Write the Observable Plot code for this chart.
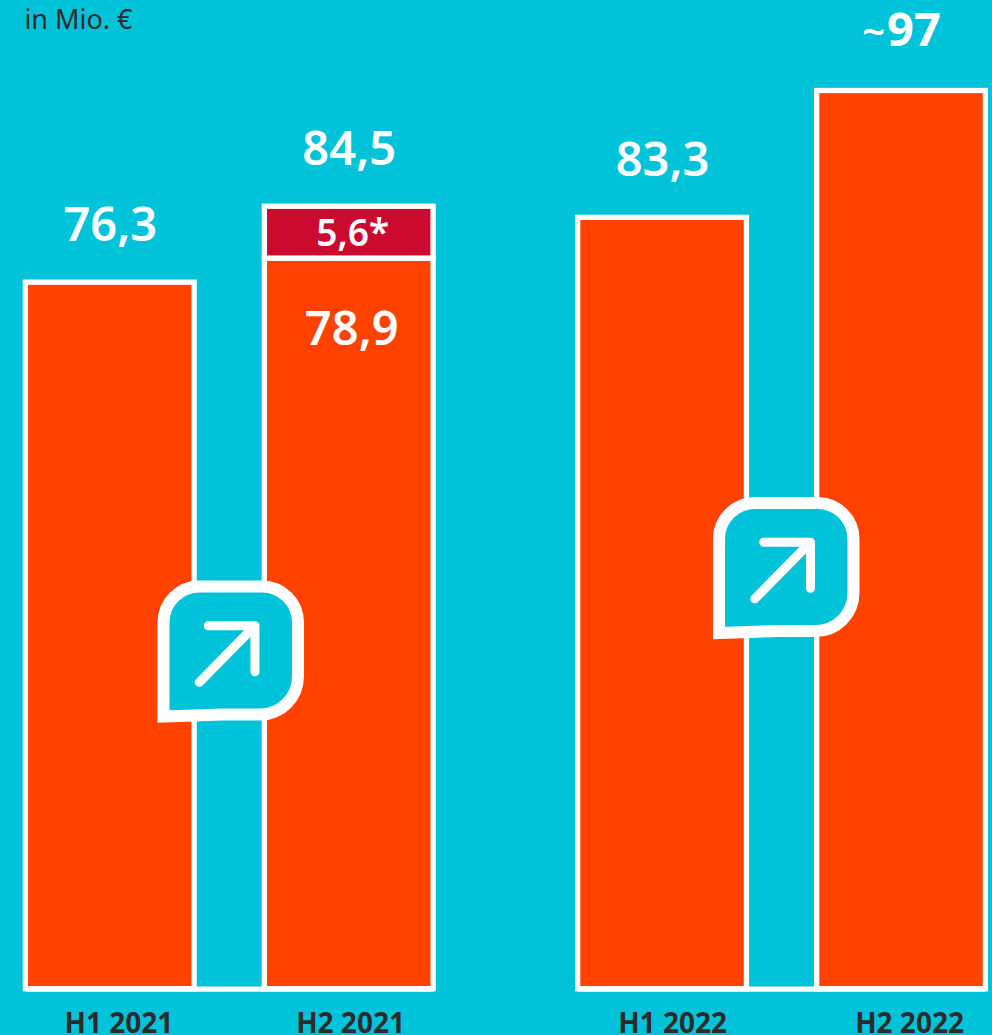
<!DOCTYPE html>
<html><head><meta charset="utf-8">
<script src="https://cdn.jsdelivr.net/npm/d3@7"></script>
<script src="https://cdn.jsdelivr.net/npm/@observablehq/plot@0.6"></script>
<style>html,body{margin:0;padding:0;background:#00c3d9;overflow:hidden}svg{display:block}</style>
</head><body><div id="c"></div><script>
const years = ["2021","2021","2022","2022"];
const halves = ["H1","H2","H1","H2"];
const periodLabels = ["H1 2021","H2 2021","H1 2022","H2 2022"];
const totals = [76.3,84.5,83.3,97];
const totalLabels = ["76,3","84,5","83,3","~97"];
const baseValues = [76.3,78.9,83.3,97];
const extraValues = [0,5.6,0,0];
const calloutYears = ["2021","2022"];
const calloutLevels = [43.43,52.45];
const rows = years.map((year,i)=>({year,half:halves[i],label:periodLabels[i],total:totals[i],totalLabel:totalLabels[i],base:baseValues[i],extra:extraValues[i]}));
const callouts = calloutYears.map((year,i)=>({year,level:calloutLevels[i]}));
const WHITE="#fff",ORANGE="#ff4200",RED="#cc0a2f",DARK="#2b2b2b",BG="#00c3d9";
const SW=5.3;
const font="'Noto Sans'";
function bubble(year,dx){
  return Plot.dot(callouts.filter(d=>d.year===year),{fx:"year",y:"level",r:0,render(index,scales,values){
    const g=d3.create("svg:g");
    for(const i of index){
      const b=g.append("g").attr("transform",`translate(${scales.x("H2")+dx},${values.y[i]})`);
      b.append("path").attr("fill",BG).attr("stroke",WHITE).attr("stroke-width",12).attr("stroke-linejoin","miter").attr("stroke-miterlimit",8)
        .attr("d","M0,130 L0,36 A36,36 0 0 1 36,0 L98.5,0 A36,36 0 0 1 134.5,36 L134.5,90 A38,38 0 0 1 96.5,128 L60,128 Z");
      b.append("path").attr("fill","none").attr("stroke",WHITE).attr("stroke-width",9).attr("stroke-linecap","round").attr("stroke-linejoin","round")
        .attr("d","M44.8,39.2 L91.5,39.2 L91.5,85.2 M35.8,95.8 L91.5,39.2");
    }
    return g.node();
  }});
}
function approxTilde(index,scales,values,dims,ctx,next){
  const g=next(index,scales,values,dims,ctx);
  d3.select(g).selectAll("text").each(function(){
    const t=this.textContent;
    if(t.startsWith("~")){
      const s=d3.select(this); s.text("");
      s.append("tspan").attr("font-size",40).attr("dy",-3).text("~");
      s.append("tspan").attr("font-weight",700).attr("dx",2).text(t.slice(1));
    }
  });
  return g;
}
const big={fill:WHITE,fontFamily:font,fontSize:47,fontWeight:600,textAnchor:"middle",lineAnchor:"middle"};
const tick={fill:DARK,fontFamily:font,fontSize:28,fontWeight:700,textAnchor:"middle",lineAnchor:"middle"};
const tickMark=(label,dx)=>Plot.text(rows.filter(d=>d.label===label),{fx:"year",x:"half",y:0,text:"label",dx,dy:34.5,...tick});
const chart=Plot.plot({
  width:992,height:1035,marginLeft:25.4,marginRight:6.6,marginTop:0,marginBottom:0,
  style:{background:BG},
  fx:{domain:["2021","2022"],paddingInner:0.2618,paddingOuter:0,round:false,axis:null},
  x:{domain:["H1","H2"],paddingInner:0.294,paddingOuter:0,round:false,axis:null},
  y:{domain:[0,97],range:[988.7,90.5],axis:null},
  marks:[
    Plot.rectY(rows,{fx:"year",x:"half",y1:0,y2:"base",fill:ORANGE,stroke:WHITE,strokeWidth:SW}),
    Plot.rectY(rows.filter(d=>d.extra>0),{fx:"year",x:"half",y1:"base",y2:"total",fill:RED,stroke:WHITE,strokeWidth:SW}),
    Plot.ruleY([0],{stroke:WHITE,strokeWidth:SW}),
    Plot.text(rows,{fx:"year",x:"half",y:"total",text:"totalLabel",dy:-57,render:approxTilde,...big}),
    Plot.text(rows.filter(d=>d.extra>0),{fx:"year",x:"half",y:"base",text:d=>d.base.toFixed(1).replace(".",","),dx:2.5,dy:71,...big}),
    Plot.text(rows.filter(d=>d.extra>0),{fx:"year",x:"half",y:"total",text:d=>d.extra.toFixed(1).replace(".",",")+"*",dx:3.5,dy:27,...big,fontSize:37}),
    tickMark("H1 2021",8.7),tickMark("H2 2021",1.3),tickMark("H1 2022",10),tickMark("H2 2022",8),
    Plot.text(["in Mio. €"],{frameAnchor:"top-left",dx:-1.5,dy:9,facet:"super",fill:DARK,fontFamily:font,fontSize:27,lineAnchor:"top"}),
    bubble("2021",-100.9),
    bubble("2022",-97.7),
  ]
});
document.getElementById("c").append(chart);
</script></body></html>
